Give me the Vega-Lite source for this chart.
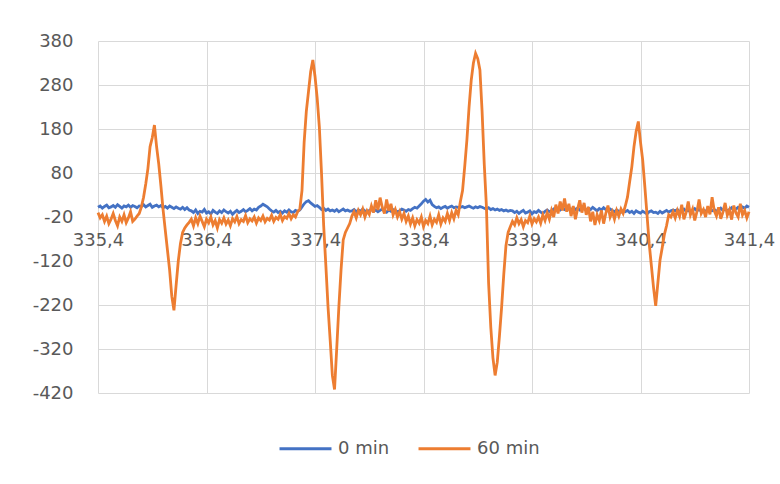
{
"$schema": "https://vega.github.io/schema/vega-lite/v6.json",
"width": 651, "height": 352,
"autosize": {"type": "none"},
"padding": {"left": 98, "top": 41, "right": 31, "bottom": 91},
"background": "white",
"config": {"view": {"stroke": null}, "font": "DejaVu Sans",
  "locale": {"number": {"decimal": ",", "thousands": ".", "grouping": [3], "currency": ["", "€"], "minus": "-"}}},
"data": {"values": [
{"x":335.40,"0 min":2,"60 min":-10},{"x":335.42,"0 min":5,"60 min":-22},{"x":335.44,"0 min":0,"60 min":-15},{"x":335.46,"0 min":4,"60 min":-30},{"x":335.48,"0 min":7,"60 min":-18},
{"x":335.50,"0 min":1,"60 min":-35},{"x":335.52,"0 min":3,"60 min":-25},{"x":335.54,"0 min":6,"60 min":-12},{"x":335.56,"0 min":2,"60 min":-28},{"x":335.58,"0 min":8,"60 min":-40},
{"x":335.60,"0 min":4,"60 min":-20},{"x":335.62,"0 min":0,"60 min":-30},{"x":335.64,"0 min":5,"60 min":-15},{"x":335.66,"0 min":3,"60 min":-33},{"x":335.68,"0 min":7,"60 min":-22},
{"x":335.70,"0 min":2,"60 min":-8},{"x":335.72,"0 min":6,"60 min":-30},{"x":335.74,"0 min":4,"60 min":-25},{"x":335.76,"0 min":1,"60 min":-18},{"x":335.78,"0 min":5,"60 min":-12},
{"x":335.80,"0 min":4,"60 min":3},{"x":335.82,"0 min":8,"60 min":25},{"x":335.84,"0 min":3,"60 min":55},{"x":335.86,"0 min":6,"60 min":90},{"x":335.88,"0 min":9,"60 min":140},
{"x":335.90,"0 min":2,"60 min":160},{"x":335.92,"0 min":5,"60 min":189},{"x":335.94,"0 min":7,"60 min":140},{"x":335.96,"0 min":3,"60 min":100},{"x":335.98,"0 min":6,"60 min":50},
{"x":336.00,"0 min":1,"60 min":-4},{"x":336.02,"0 min":4,"60 min":-50},{"x":336.04,"0 min":0,"60 min":-95},{"x":336.06,"0 min":5,"60 min":-140},{"x":336.08,"0 min":2,"60 min":-200},
{"x":336.10,"0 min":-1,"60 min":-232},{"x":336.12,"0 min":3,"60 min":-175},{"x":336.14,"0 min":0,"60 min":-120},{"x":336.16,"0 min":-2,"60 min":-80},{"x":336.18,"0 min":2,"60 min":-55},
{"x":336.20,"0 min":-3,"60 min":-45},{"x":336.22,"0 min":1,"60 min":-38},{"x":336.24,"0 min":-4,"60 min":-32},
{"x":336.26,"0 min":-6,"60 min":-25},{"x":336.28,"0 min":-10,"60 min":-40},{"x":336.30,"0 min":-4,"60 min":-22},{"x":336.32,"0 min":-12,"60 min":-35},{"x":336.34,"0 min":-7,"60 min":-18},
{"x":336.36,"0 min":-9,"60 min":-30},{"x":336.38,"0 min":-3,"60 min":-42},{"x":336.40,"0 min":-11,"60 min":-25},{"x":336.42,"0 min":-8,"60 min":-33},{"x":336.44,"0 min":-13,"60 min":-20},
{"x":336.46,"0 min":-5,"60 min":-38},{"x":336.48,"0 min":-9,"60 min":-28},{"x":336.50,"0 min":-12,"60 min":-45},{"x":336.52,"0 min":-6,"60 min":-26},{"x":336.54,"0 min":-10,"60 min":-34},
{"x":336.56,"0 min":-4,"60 min":-22},{"x":336.58,"0 min":-8,"60 min":-36},{"x":336.60,"0 min":-11,"60 min":-27},{"x":336.62,"0 min":-7,"60 min":-40},{"x":336.64,"0 min":-14,"60 min":-24},
{"x":336.66,"0 min":-9,"60 min":-31},{"x":336.68,"0 min":-5,"60 min":-19},{"x":336.70,"0 min":-10,"60 min":-35},{"x":336.72,"0 min":-7,"60 min":-26},{"x":336.74,"0 min":-3,"60 min":-30},
{"x":336.76,"0 min":-8,"60 min":-17},{"x":336.78,"0 min":-5,"60 min":-33},{"x":336.80,"0 min":-1,"60 min":-24},{"x":336.82,"0 min":-6,"60 min":-29},{"x":336.84,"0 min":-2,"60 min":-20},
{"x":336.86,"0 min":-4,"60 min":-34},{"x":336.88,"0 min":2,"60 min":-22},{"x":336.90,"0 min":5,"60 min":-28},{"x":336.92,"0 min":9,"60 min":-18},{"x":336.94,"0 min":6,"60 min":-31},
{"x":336.96,"0 min":3,"60 min":-23},{"x":336.98,"0 min":-2,"60 min":-27},{"x":337.00,"0 min":-6,"60 min":-16},{"x":337.02,"0 min":-9,"60 min":-30},{"x":337.04,"0 min":-5,"60 min":-21},
{"x":337.06,"0 min":-10,"60 min":-25},{"x":337.08,"0 min":-7,"60 min":-14},{"x":337.10,"0 min":-11,"60 min":-28},{"x":337.12,"0 min":-6,"60 min":-19},{"x":337.14,"0 min":-9,"60 min":-23},
{"x":337.16,"0 min":-4,"60 min":-12},{"x":337.18,"0 min":-8,"60 min":-24},{"x":337.20,"0 min":-10,"60 min":-15},{"x":337.22,"0 min":-5,"60 min":-20},{"x":337.24,"0 min":-7,"60 min":-8},
{"x":337.26,"0 min":-4,"60 min":-2},{"x":337.28,"0 min":3,"60 min":40},{"x":337.30,"0 min":10,"60 min":150},{"x":337.32,"0 min":15,"60 min":220},{"x":337.34,"0 min":17,"60 min":265},
{"x":337.36,"0 min":12,"60 min":310},{"x":337.38,"0 min":8,"60 min":337},{"x":337.40,"0 min":4,"60 min":300},{"x":337.42,"0 min":6,"60 min":250},{"x":337.44,"0 min":2,"60 min":185},
{"x":337.46,"0 min":-3,"60 min":80},{"x":337.48,"0 min":0,"60 min":-40},{"x":337.50,"0 min":-5,"60 min":-130},{"x":337.52,"0 min":-2,"60 min":-224},{"x":337.54,"0 min":-6,"60 min":-300},
{"x":337.56,"0 min":-4,"60 min":-380},{"x":337.58,"0 min":-7,"60 min":-412},{"x":337.60,"0 min":-3,"60 min":-320},{"x":337.62,"0 min":-8,"60 min":-224},{"x":337.64,"0 min":-5,"60 min":-140},
{"x":337.66,"0 min":-2,"60 min":-72},{"x":337.68,"0 min":-6,"60 min":-55},{"x":337.70,"0 min":-4,"60 min":-45},{"x":337.72,"0 min":-7,"60 min":-35},
{"x":337.74,"0 min":-6,"60 min":-18},{"x":337.76,"0 min":-3,"60 min":-8},{"x":337.78,"0 min":-8,"60 min":-22},{"x":337.80,"0 min":-4,"60 min":-5},{"x":337.82,"0 min":-7,"60 min":-15},
{"x":337.84,"0 min":-2,"60 min":-2},{"x":337.86,"0 min":-6,"60 min":-20},{"x":337.88,"0 min":-9,"60 min":-6},{"x":337.90,"0 min":-5,"60 min":-14},{"x":337.92,"0 min":-3,"60 min":5},
{"x":337.94,"0 min":-7,"60 min":-10},{"x":337.96,"0 min":-4,"60 min":18},{"x":337.98,"0 min":-8,"60 min":-4},{"x":338.00,"0 min":-5,"60 min":24},{"x":338.02,"0 min":-2,"60 min":2},
{"x":338.04,"0 min":-6,"60 min":-12},{"x":338.06,"0 min":-9,"60 min":20},{"x":338.08,"0 min":-4,"60 min":-6},{"x":338.10,"0 min":-7,"60 min":10},{"x":338.12,"0 min":-3,"60 min":-15},
{"x":338.14,"0 min":-5,"60 min":-3},{"x":338.16,"0 min":-8,"60 min":-20},{"x":338.18,"0 min":-6,"60 min":-8},{"x":338.20,"0 min":-2,"60 min":-25},{"x":338.22,"0 min":-4,"60 min":-12},
{"x":338.24,"0 min":-7,"60 min":-30},{"x":338.26,"0 min":-3,"60 min":-18},{"x":338.28,"0 min":-5,"60 min":-36},{"x":338.30,"0 min":-1,"60 min":-22},{"x":338.32,"0 min":2,"60 min":-40},
{"x":338.34,"0 min":0,"60 min":-26},{"x":338.36,"0 min":5,"60 min":-34},{"x":338.38,"0 min":10,"60 min":-20},{"x":338.40,"0 min":16,"60 min":-42},{"x":338.42,"0 min":20,"60 min":-28},
{"x":338.44,"0 min":14,"60 min":-35},{"x":338.46,"0 min":18,"60 min":-18},{"x":338.48,"0 min":8,"60 min":-38},{"x":338.50,"0 min":4,"60 min":-25},{"x":338.52,"0 min":1,"60 min":-32},
{"x":338.54,"0 min":3,"60 min":-15},{"x":338.56,"0 min":-1,"60 min":-36},{"x":338.58,"0 min":2,"60 min":-22},{"x":338.60,"0 min":4,"60 min":-30},{"x":338.62,"0 min":0,"60 min":-12},
{"x":338.64,"0 min":3,"60 min":-28},{"x":338.66,"0 min":5,"60 min":-10},{"x":338.68,"0 min":1,"60 min":-24},{"x":338.70,"0 min":3,"60 min":-5},{"x":338.72,"0 min":2,"60 min":-15},
{"x":338.74,"0 min":2,"60 min":15},{"x":338.76,"0 min":4,"60 min":40},{"x":338.78,"0 min":1,"60 min":95},{"x":338.80,"0 min":3,"60 min":155},{"x":338.82,"0 min":5,"60 min":230},
{"x":338.84,"0 min":2,"60 min":291},{"x":338.86,"0 min":0,"60 min":330},{"x":338.88,"0 min":3,"60 min":352},{"x":338.90,"0 min":1,"60 min":340},{"x":338.92,"0 min":4,"60 min":314},
{"x":338.94,"0 min":2,"60 min":220},{"x":338.96,"0 min":0,"60 min":100},{"x":338.98,"0 min":-2,"60 min":3},{"x":339.00,"0 min":1,"60 min":-170},{"x":339.02,"0 min":-3,"60 min":-270},
{"x":339.04,"0 min":-1,"60 min":-340},{"x":339.06,"0 min":-4,"60 min":-380},{"x":339.08,"0 min":-2,"60 min":-350},{"x":339.10,"0 min":-5,"60 min":-290},{"x":339.12,"0 min":-3,"60 min":-225},
{"x":339.14,"0 min":-6,"60 min":-150},{"x":339.16,"0 min":-4,"60 min":-85},{"x":339.18,"0 min":-7,"60 min":-55},{"x":339.20,"0 min":-5,"60 min":-42},
{"x":339.22,"0 min":-6,"60 min":-30},{"x":339.24,"0 min":-10,"60 min":-38},{"x":339.26,"0 min":-7,"60 min":-22},{"x":339.28,"0 min":-12,"60 min":-35},{"x":339.30,"0 min":-8,"60 min":-26},
{"x":339.32,"0 min":-5,"60 min":-42},{"x":339.34,"0 min":-11,"60 min":-28},{"x":339.36,"0 min":-9,"60 min":-33},{"x":339.38,"0 min":-6,"60 min":-18},{"x":339.40,"0 min":-13,"60 min":-36},
{"x":339.42,"0 min":-8,"60 min":-24},{"x":339.44,"0 min":-10,"60 min":-31},{"x":339.46,"0 min":-5,"60 min":-20},{"x":339.48,"0 min":-9,"60 min":-34},{"x":339.50,"0 min":-12,"60 min":-15},
{"x":339.52,"0 min":-7,"60 min":-28},{"x":339.54,"0 min":-4,"60 min":-10},{"x":339.56,"0 min":-8,"60 min":-25},{"x":339.58,"0 min":-6,"60 min":-5},{"x":339.60,"0 min":-2,"60 min":-20},
{"x":339.62,"0 min":-5,"60 min":8},{"x":339.64,"0 min":-1,"60 min":-12},{"x":339.66,"0 min":-4,"60 min":15},{"x":339.68,"0 min":0,"60 min":-5},{"x":339.70,"0 min":-3,"60 min":22},
{"x":339.72,"0 min":2,"60 min":-8},{"x":339.74,"0 min":-2,"60 min":10},{"x":339.76,"0 min":-5,"60 min":-18},{"x":339.78,"0 min":1,"60 min":5},{"x":339.80,"0 min":-3,"60 min":-25},
{"x":339.82,"0 min":0,"60 min":-2},{"x":339.84,"0 min":-4,"60 min":18},{"x":339.86,"0 min":3,"60 min":-10},{"x":339.88,"0 min":-1,"60 min":12},{"x":339.90,"0 min":-5,"60 min":-15},
{"x":339.92,"0 min":0,"60 min":3},{"x":339.94,"0 min":-3,"60 min":-30},{"x":339.96,"0 min":2,"60 min":-8},{"x":339.98,"0 min":-2,"60 min":-38},{"x":340.00,"0 min":-6,"60 min":-15},
{"x":340.02,"0 min":-1,"60 min":-28},{"x":340.04,"0 min":-4,"60 min":-5},{"x":340.06,"0 min":1,"60 min":-35},{"x":340.08,"0 min":-3,"60 min":-12},{"x":340.10,"0 min":-6,"60 min":6},
{"x":340.12,"0 min":-2,"60 min":-20},{"x":340.14,"0 min":-5,"60 min":-8},{"x":340.16,"0 min":-8,"60 min":-25},{"x":340.18,"0 min":-4,"60 min":-5},{"x":340.20,"0 min":-7,"60 min":-18},
{"x":340.22,"0 min":-9,"60 min":-2},{"x":340.24,"0 min":-6,"60 min":-12},
{"x":340.26,"0 min":-8,"60 min":5},{"x":340.28,"0 min":-5,"60 min":25},{"x":340.30,"0 min":-10,"60 min":60},{"x":340.32,"0 min":-7,"60 min":94},{"x":340.34,"0 min":-12,"60 min":140},
{"x":340.36,"0 min":-6,"60 min":175},{"x":340.38,"0 min":-9,"60 min":197},{"x":340.40,"0 min":-11,"60 min":150},{"x":340.42,"0 min":-7,"60 min":110},{"x":340.44,"0 min":-10,"60 min":49},
{"x":340.46,"0 min":-13,"60 min":-15},{"x":340.48,"0 min":-8,"60 min":-80},{"x":340.50,"0 min":-6,"60 min":-130},{"x":340.52,"0 min":-10,"60 min":-180},{"x":340.54,"0 min":-9,"60 min":-222},
{"x":340.56,"0 min":-12,"60 min":-170},{"x":340.58,"0 min":-7,"60 min":-118},{"x":340.60,"0 min":-11,"60 min":-90},{"x":340.62,"0 min":-8,"60 min":-60},{"x":340.64,"0 min":-5,"60 min":-40},
{"x":340.66,"0 min":-9,"60 min":-15},{"x":340.68,"0 min":-6,"60 min":-20},{"x":340.70,"0 min":-4,"60 min":-8},
{"x":340.72,"0 min":-6,"60 min":-22},{"x":340.74,"0 min":-3,"60 min":-5},{"x":340.76,"0 min":-8,"60 min":-18},{"x":340.78,"0 min":-5,"60 min":8},{"x":340.80,"0 min":-2,"60 min":-25},
{"x":340.82,"0 min":-7,"60 min":-10},{"x":340.84,"0 min":-4,"60 min":15},{"x":340.86,"0 min":-9,"60 min":-15},{"x":340.88,"0 min":-5,"60 min":-2},{"x":340.90,"0 min":-1,"60 min":-28},
{"x":340.92,"0 min":-6,"60 min":-8},{"x":340.94,"0 min":-3,"60 min":20},{"x":340.96,"0 min":-7,"60 min":-12},{"x":340.98,"0 min":-4,"60 min":-3},{"x":341.00,"0 min":-8,"60 min":-20},
{"x":341.02,"0 min":-2,"60 min":5},{"x":341.04,"0 min":-5,"60 min":-14},{"x":341.06,"0 min":-6,"60 min":25},{"x":341.08,"0 min":-3,"60 min":-6},{"x":341.10,"0 min":-7,"60 min":-18},
{"x":341.12,"0 min":-4,"60 min":2},{"x":341.14,"0 min":0,"60 min":-24},{"x":341.16,"0 min":-5,"60 min":-9},{"x":341.18,"0 min":-2,"60 min":12},{"x":341.20,"0 min":-6,"60 min":-16},
{"x":341.22,"0 min":-3,"60 min":-4},{"x":341.24,"0 min":1,"60 min":-26},{"x":341.26,"0 min":-4,"60 min":6},{"x":341.28,"0 min":-2,"60 min":-11},{"x":341.30,"0 min":2,"60 min":-20},
{"x":341.32,"0 min":-1,"60 min":10},{"x":341.34,"0 min":3,"60 min":-15},{"x":341.36,"0 min":0,"60 min":-5},{"x":341.38,"0 min":5,"60 min":-22},{"x":341.40,"0 min":2,"60 min":-8}
]},
"transform": [{"fold": ["0 min", "60 min"], "as": ["series", "value"]}],
"mark": {"type": "line", "strokeWidth": 2.8},
"encoding": {
  "x": {"field": "x", "type": "quantitative",
    "scale": {"domain": [335.4, 341.4], "nice": false, "zero": false},
    "axis": {"title": null, "values": [335.4, 336.4, 337.4, 338.4, 339.4, 340.4, 341.4], "format": ".1f",
      "offset": -176, "domain": false, "ticks": false, "grid": true, "gridColor": "#d9d9d9", "gridWidth": 1,
      "labelFontSize": 18, "labelColor": "#595959", "labelPadding": 14, "labelFlush": false, "labelOverlap": false}},
  "y": {"field": "value", "type": "quantitative",
    "scale": {"domain": [-420, 380], "nice": false, "zero": false},
    "axis": {"title": null, "values": [-420, -320, -220, -120, -20, 80, 180, 280, 380], "format": "d",
      "domain": false, "ticks": false, "grid": true, "gridColor": "#d9d9d9", "gridWidth": 1,
      "labelFontSize": 18, "labelColor": "#595959", "labelPadding": 25}},
  "color": {"field": "series", "type": "nominal",
    "scale": {"domain": ["0 min", "60 min"], "range": ["#4472C4", "#ED7D31"]},
    "legend": {"title": null, "orient": "none", "legendX": 180, "legendY": 380, "direction": "horizontal",
      "symbolType": "stroke", "symbolSize": 2700, "symbolStrokeWidth": 3, "labelFontSize": 18,
      "labelColor": "#595959", "columnPadding": 22, "padding": 0, "labelOffset": 5}}
}
}
